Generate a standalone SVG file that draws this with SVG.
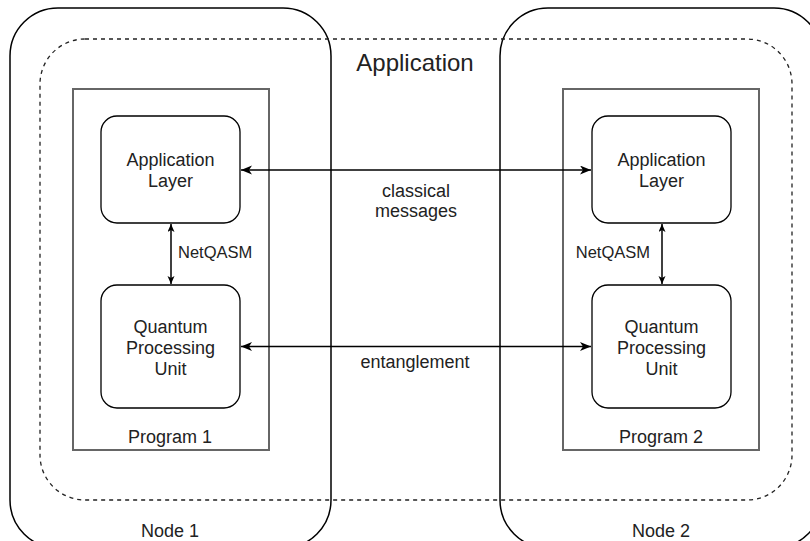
<svg xmlns="http://www.w3.org/2000/svg" width="810" height="541" viewBox="0 0 810 541">
  <defs>
    <marker id="arr" markerUnits="userSpaceOnUse" markerWidth="12" markerHeight="10" refX="11" refY="4.5" orient="auto-start-reverse">
      <path d="M0,0 L11,4.5 L0,9 L3,4.5 z" fill="#000"/>
    </marker>
    <marker id="arrs" markerUnits="userSpaceOnUse" markerWidth="9" markerHeight="8" refX="8" refY="3.5" orient="auto-start-reverse">
      <path d="M0,0 L8,3.5 L0,7 L2,3.5 z" fill="#000"/>
    </marker>
  </defs>
  <style>
    text { font-family: "Liberation Sans", Arial, sans-serif; fill: #222; text-anchor: middle; }
    .t18 { font-size: 18px; }
    .t16 { font-size: 16.5px; }
    .t24 { font-size: 24px; }
    .node { fill: none; stroke: #000; stroke-width: 1.5; }
    .app { fill: none; stroke: #222; stroke-width: 1.3; stroke-dasharray: 4 4; }
    .prog { fill: none; stroke: #666; stroke-width: 2; }
    .box { fill: #fff; stroke: #000; stroke-width: 1.3; }
    .conn { fill: none; stroke: #000; stroke-width: 1.5; }
  </style>
  <rect width="810" height="541" fill="#fff"/>

  <g id="node1">
    <rect class="node" x="10" y="8" width="321" height="540" rx="48" ry="48"/>
    <text class="t18" x="170" y="537">Node 1</text>
  </g>
  <g id="node2">
    <rect class="node" x="500" y="8" width="322" height="540" rx="48" ry="48"/>
    <text class="t18" x="661" y="537">Node 2</text>
  </g>

  <g id="application">
    <rect class="app" x="40" y="39" width="752" height="461" rx="45" ry="45"/>
    <text class="t24" x="415" y="71">Application</text>
  </g>

  <g id="program1">
    <rect class="prog" x="73" y="89" width="196" height="361"/>
    <text class="t18" x="170" y="443">Program 1</text>
  </g>
  <g id="program2">
    <rect class="prog" x="563" y="89" width="196" height="361"/>
    <text class="t18" x="661" y="443">Program 2</text>
  </g>

  <g id="applayer1">
    <rect class="box" x="101" y="116" width="139" height="107" rx="16" ry="16"/>
    <text class="t18" x="170.5" y="166">Application</text>
    <text class="t18" x="170.5" y="187">Layer</text>
  </g>
  <g id="qpu1">
    <rect class="box" x="101" y="285" width="139" height="123" rx="16" ry="16"/>
    <text class="t18" x="170.5" y="333">Quantum</text>
    <text class="t18" x="170.5" y="354">Processing</text>
    <text class="t18" x="170.5" y="375">Unit</text>
  </g>
  <g id="applayer2">
    <rect class="box" x="592" y="116" width="139" height="107" rx="16" ry="16"/>
    <text class="t18" x="661.5" y="166">Application</text>
    <text class="t18" x="661.5" y="187">Layer</text>
  </g>
  <g id="qpu2">
    <rect class="box" x="592" y="285" width="139" height="123" rx="16" ry="16"/>
    <text class="t18" x="661.5" y="333">Quantum</text>
    <text class="t18" x="661.5" y="354">Processing</text>
    <text class="t18" x="661.5" y="375">Unit</text>
  </g>

  <g id="connectors">
    <path class="conn" d="M241,170 L591,170" marker-start="url(#arr)" marker-end="url(#arr)"/>
    <path class="conn" d="M241,346.5 L591,346.5" marker-start="url(#arr)" marker-end="url(#arr)"/>
    <path class="conn" d="M171,224 L171,284" marker-start="url(#arrs)" marker-end="url(#arrs)"/>
    <path class="conn" d="M662,224 L662,284" marker-start="url(#arrs)" marker-end="url(#arrs)"/>
    <text class="t18" x="416" y="196.5">classical</text>
    <text class="t18" x="416" y="217">messages</text>
    <text class="t18" x="415" y="367.5">entanglement</text>
    <text class="t16" x="178" y="258" style="text-anchor:start">NetQASM</text>
    <text class="t16" x="650" y="258" style="text-anchor:end">NetQASM</text>
  </g>
</svg>
